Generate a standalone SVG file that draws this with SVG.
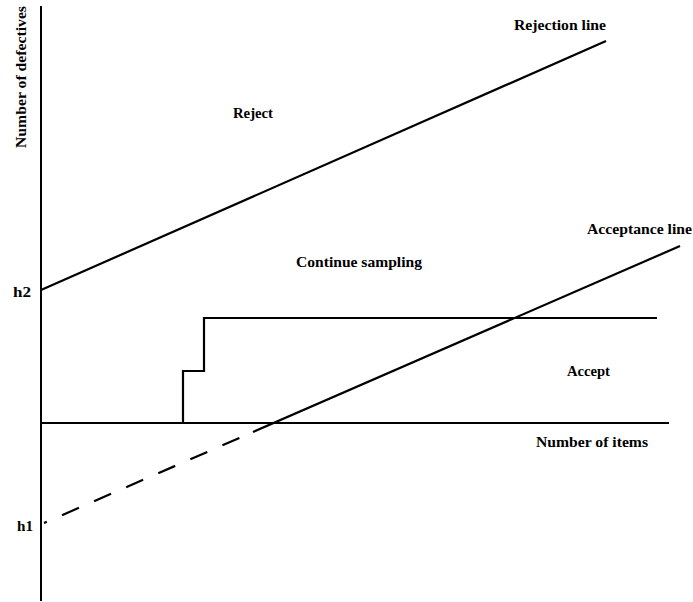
<svg xmlns="http://www.w3.org/2000/svg" width="693" height="602" viewBox="0 0 693 602">
<style>
.ln{stroke:#000;stroke-width:2.2;fill:none;stroke-linecap:butt}
.ax{stroke:#000;stroke-width:2;fill:none}
.t{font-family:"Liberation Serif","Times New Roman",serif;font-weight:bold;font-size:15px;fill:#000}
</style>
<rect width="693" height="602" fill="#fff"/>
<g id="axes">
<line class="ax" x1="41" y1="6" x2="41" y2="601"/>
<line class="ax" x1="41" y1="423" x2="669" y2="423"/>
</g>
<g id="connectors">
<line id="rejection" class="ln" x1="41" y1="290" x2="606" y2="41"/>
<line id="acceptance" class="ln" x1="253" y1="432" x2="680" y2="246"/>
<line id="acceptance-dashed" class="ln" x1="44" y1="523" x2="253" y2="432" stroke-dasharray="18.5 16.5" stroke-dashoffset="15.4"/>
<polyline id="path" class="ln" points="183,423 183,371 204,371 204,318 657,318"/>
</g>
<g id="labels">
<text class="t" transform="translate(26,148) rotate(-90)" textLength="142" lengthAdjust="spacingAndGlyphs">Number of defectives</text>
<text class="t" x="514" y="30" textLength="92" lengthAdjust="spacingAndGlyphs">Rejection line</text>
<text class="t" x="233" y="118" textLength="40" lengthAdjust="spacingAndGlyphs">Reject</text>
<text class="t" x="296" y="267" textLength="126" lengthAdjust="spacingAndGlyphs">Continue sampling</text>
<text class="t" x="587" y="234" textLength="105" lengthAdjust="spacingAndGlyphs">Acceptance line</text>
<text class="t" x="567" y="376" textLength="43" lengthAdjust="spacingAndGlyphs">Accept</text>
<text class="t" x="536" y="447" textLength="112" lengthAdjust="spacingAndGlyphs">Number of items</text>
<text class="t" x="13" y="297" textLength="18" lengthAdjust="spacingAndGlyphs">h2</text>
<text class="t" x="17" y="531" textLength="16" lengthAdjust="spacingAndGlyphs">h1</text>
</g>
</svg>
